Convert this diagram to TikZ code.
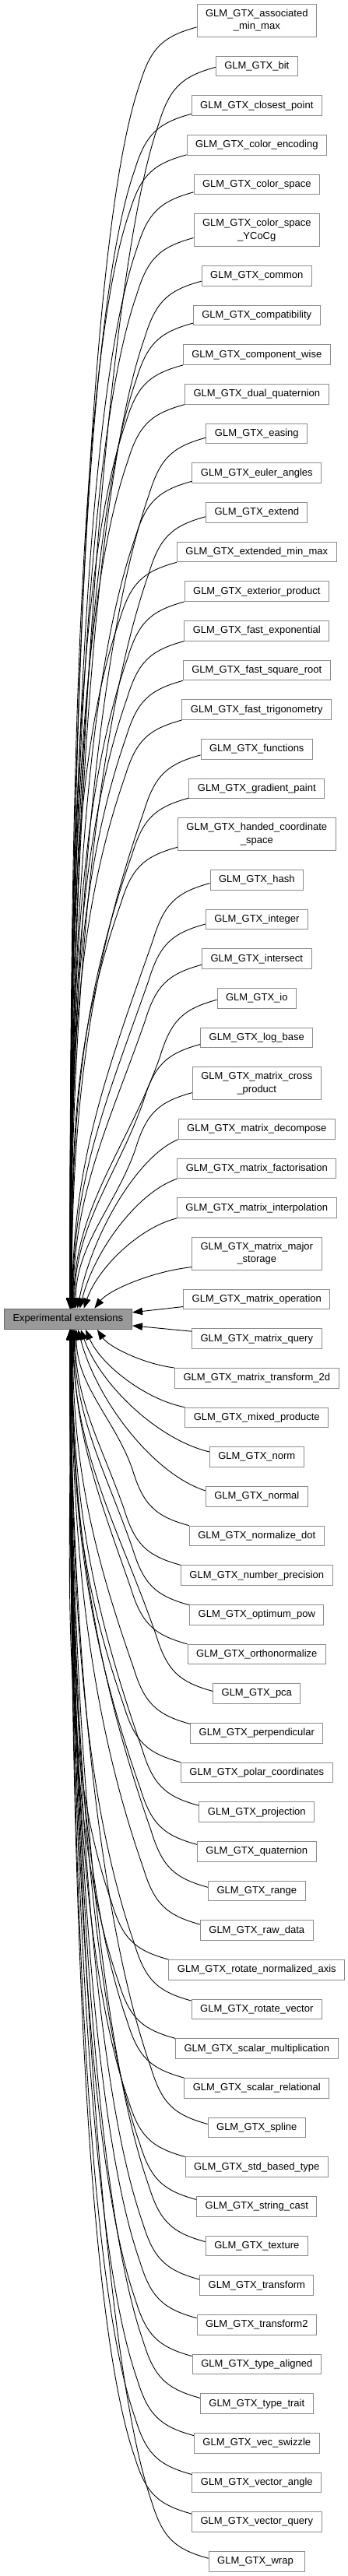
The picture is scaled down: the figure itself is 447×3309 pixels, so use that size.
\documentclass[tikz,border=0pt]{standalone}
\usepackage{fontspec}
\setmainfont{Liberation Sans}
\usetikzlibrary{arrows.meta}

\tikzset{
  modbox/.style={draw=black!45, fill=white, line width=1pt, inner xsep=11pt, inner ysep=0pt,
    align=center, font=\fontsize{13}{16.3}\selectfont},
  curbox/.style={modbox, draw=black!60, fill=black!40},
  depline/.style={->, line width=0.9pt},
}

\begin{document}
\begin{tikzpicture}[x=1pt,y=1pt,>={Triangle[length=13pt,width=9.5pt]}]
\useasboundingbox (0,0) rectangle (447,-3309);

\node[curbox, minimum width=164.3pt, minimum height=26.3pt] (m) at (87.33,-1694.33) {Experimental extensions};

\foreach \n/\yy/\hh/\lab in {
  1/26.33/21.33/{GLM\_GTX\_associated\\\_min\_max},
  2/85.00/13.33/{GLM\_GTX\_bit},
  3/135.67/13.33/{GLM\_GTX\_closest\_point},
  4/186.33/13.33/{GLM\_GTX\_color\_encoding},
  5/237.00/13.33/{GLM\_GTX\_color\_space},
  6/295.67/21.33/{GLM\_GTX\_color\_space\\\_YCoCg},
  7/354.33/13.33/{GLM\_GTX\_common},
  8/405.00/13.33/{GLM\_GTX\_compatibility},
  9/455.67/13.33/{GLM\_GTX\_component\_wise},
  10/506.33/13.33/{GLM\_GTX\_dual\_quaternion},
  11/557.00/13.33/{GLM\_GTX\_easing},
  12/607.67/13.33/{GLM\_GTX\_euler\_angles},
  13/658.33/13.33/{GLM\_GTX\_extend},
  14/709.00/13.33/{GLM\_GTX\_extended\_min\_max},
  15/759.67/13.33/{GLM\_GTX\_exterior\_product},
  16/810.33/13.33/{GLM\_GTX\_fast\_exponential},
  17/861.00/13.33/{GLM\_GTX\_fast\_square\_root},
  18/911.67/13.33/{GLM\_GTX\_fast\_trigonometry},
  19/962.33/13.33/{GLM\_GTX\_functions},
  20/1013.00/13.33/{GLM\_GTX\_gradient\_paint},
  21/1071.67/21.33/{GLM\_GTX\_handed\_coordinate\\\_space},
  22/1130.33/13.33/{GLM\_GTX\_hash},
  23/1181.00/13.33/{GLM\_GTX\_integer},
  24/1231.67/13.33/{GLM\_GTX\_intersect},
  25/1282.33/13.33/{GLM\_GTX\_io},
  26/1333.00/13.33/{GLM\_GTX\_log\_base},
  27/1391.67/21.33/{GLM\_GTX\_matrix\_cross\\\_product},
  28/1450.33/13.33/{GLM\_GTX\_matrix\_decompose},
  29/1501.00/13.33/{GLM\_GTX\_matrix\_factorisation},
  30/1551.67/13.33/{GLM\_GTX\_matrix\_interpolation},
  31/1610.33/21.33/{GLM\_GTX\_matrix\_major\\\_storage},
  32/1669.00/13.33/{GLM\_GTX\_matrix\_operation},
  33/1719.67/13.33/{GLM\_GTX\_matrix\_query},
  34/1770.33/13.33/{GLM\_GTX\_matrix\_transform\_2d},
  35/1821.00/13.33/{GLM\_GTX\_mixed\_producte},
  36/1871.67/13.33/{GLM\_GTX\_norm},
  37/1922.33/13.33/{GLM\_GTX\_normal},
  38/1973.00/13.33/{GLM\_GTX\_normalize\_dot},
  39/2023.67/13.33/{GLM\_GTX\_number\_precision},
  40/2074.33/13.33/{GLM\_GTX\_optimum\_pow},
  41/2125.00/13.33/{GLM\_GTX\_orthonormalize},
  42/2175.67/13.33/{GLM\_GTX\_pca},
  43/2226.33/13.33/{GLM\_GTX\_perpendicular},
  44/2277.00/13.33/{GLM\_GTX\_polar\_coordinates},
  45/2327.67/13.33/{GLM\_GTX\_projection},
  46/2378.33/13.33/{GLM\_GTX\_quaternion},
  47/2429.00/13.33/{GLM\_GTX\_range},
  48/2479.67/13.33/{GLM\_GTX\_raw\_data},
  49/2530.33/13.33/{GLM\_GTX\_rotate\_normalized\_axis},
  50/2581.00/13.33/{GLM\_GTX\_rotate\_vector},
  51/2631.67/13.33/{GLM\_GTX\_scalar\_multiplication},
  52/2682.33/13.33/{GLM\_GTX\_scalar\_relational},
  53/2733.00/13.33/{GLM\_GTX\_spline},
  54/2783.67/13.33/{GLM\_GTX\_std\_based\_type},
  55/2834.33/13.33/{GLM\_GTX\_string\_cast},
  56/2885.00/13.33/{GLM\_GTX\_texture},
  57/2935.67/13.33/{GLM\_GTX\_transform},
  58/2986.33/13.33/{GLM\_GTX\_transform2},
  59/3037.00/13.33/{GLM\_GTX\_type\_aligned},
  60/3087.67/13.33/{GLM\_GTX\_type\_trait},
  61/3138.33/13.33/{GLM\_GTX\_vec\_swizzle},
  62/3189.00/13.33/{GLM\_GTX\_vector\_angle},
  63/3239.67/13.33/{GLM\_GTX\_vector\_query},
  64/3290.33/13.33/{GLM\_GTX\_wrap}
}{
  \node[modbox, minimum height=2*\hh-1] (c\n) at (329.8,-\yy) {\lab};
  \pgfmathsetmacro\dy{\yy-1694.33}
  \pgfmathsetmacro\dist{abs(\dy)}
  \pgfmathsetmacro\uu{ifthenelse(\dy>0,1,-1)}
  \pgfmathsetmacro\vv{ifthenelse(\dy>0,-1,1)}
  \ifdim\dy pt>0pt \def\side{south}\else\def\side{north}\fi
  \path (c\n.west); \pgfgetlastxy{\wx}{\wy}
  \pgfmathsetmacro\lx{\wx}
  \pgfmathsetmacro\dl{min(\hh,max(0,0.3*(280-\lx))+600/\dist)}
  \pgfmathsetmacro\xs{0.67+2800/\dist}
  \pgfmathsetmacro\vd{\dist-\dl-13.67}
  \pgfmathsetmacro\hd{\lx-87.33-\xs}
  \ifdim\dist pt<40pt
    \draw[depline] ([yshift=\uu*9.5]c\n.west) -- ([yshift=\vv*8.5]m.east);
  \else\ifdim\dist pt<250pt
    \draw[depline] ([yshift=\uu*\dl]c\n.west) .. controls +({-0.4*\hd},{\uu*0.1*\vd}) and +({0.15*\hd},{\vv*0.45*\vd}) .. ([xshift=\xs]m.\side);
  \else
    \pgfmathsetmacro\vg{\vd-73}
    \pgfmathsetmacro\kk{min(200,0.35*\vg)}
    \draw[depline] ([yshift=\uu*\dl]c\n.west)
      .. controls +(-44,{\uu*12}) and +(14,{\vv*46}) .. ([shift={(-73,{\uu*(\dl+73)})}]c\n.west)
      .. controls +({-0.35*\kk},{\uu*\kk}) and +(0,{\vv*0.4*\vg}) .. ([xshift=\xs]m.\side);
  \fi\fi
}
\end{tikzpicture}
\end{document}
